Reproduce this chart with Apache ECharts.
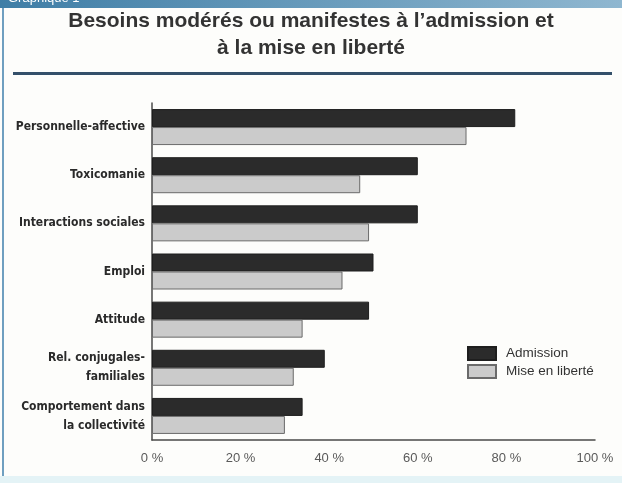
<!DOCTYPE html>
<html>
<head>
<meta charset="utf-8">
<script src="https://cdn.jsdelivr.net/npm/echarts@6/dist/echarts.min.js"></script>
<style>
  html, body { margin: 0; padding: 0; background: #fdfdfb; }
  #chart { width: 622px; height: 483px; }
</style>
</head>
<body>
<div id="chart"></div>
<script>
// Needs categories (top to bottom) and shares of offenders, in percent
const categories = [
  'Personnelle-affective',
  'Toxicomanie',
  'Interactions sociales',
  'Emploi',
  'Attitude',
  'Rel. conjugales-\nfamiliales',
  'Comportement dans\nla collectivité'
];
const admission = [82, 60, 60, 50, 49, 39, 34];
const miseEnLiberte = [71, 47, 49, 43, 34, 32, 30];
const xTicks = { min: 0, max: 100, step: 20 };

const titleFont = 'bold 21px "Liberation Sans", Arial, sans-serif';

const chart = echarts.init(document.getElementById('chart'), null, { renderer: 'canvas' });

chart.setOption({
  backgroundColor: '#fdfdfb',
  animation: false,
  graphic: [
    // header band with the exhibit label
    { type: 'rect', left: 0, top: 0, shape: { width: 622, height: 8 },
      style: { fill: new echarts.graphic.LinearGradient(0, 0, 1, 0, [
        { offset: 0, color: '#3f7ea6' }, { offset: 1, color: '#8fb7d0' }]) }, z: 10 },
    { type: 'text', left: 8, top: -8,
      style: { text: 'Graphique 1', fill: '#ffffff', font: '13px "Liberation Sans", Arial, sans-serif' }, z: 11 },
    // frame edges
    { type: 'rect', left: 2, top: 8, shape: { width: 2, height: 470 },
      style: { fill: '#6f9fc0' }, z: 10 },
    { type: 'rect', left: 0, top: 476, shape: { width: 622, height: 7 },
      style: { fill: '#e4f3f6' }, z: 10 },
    // title, two centred lines
    { type: 'text', left: 'center', top: 11,
      style: { text: 'Besoins modérés ou manifestes à l’admission et',
        fill: '#333333', font: titleFont }, z: 10 },
    { type: 'text', left: 'center', top: 38,
      style: { text: 'à la mise en liberté',
        fill: '#333333', font: titleFont }, z: 10 },
    // rule under the title
    { type: 'rect', left: 13, top: 72, shape: { width: 599, height: 3 },
      style: { fill: '#34506a' }, z: 10 }
  ],
  legend: {
    orient: 'vertical',
    left: 462,
    top: 341,
    itemWidth: 28,
    itemHeight: 13,
    itemGap: 3,
    icon: 'rect',
    textStyle: { color: '#333333', fontSize: 13.5, fontFamily: '"Liberation Sans", Arial, sans-serif', padding: [0, 0, 0, 5] },
    data: ['Admission', 'Mise en liberté']
  },
  grid: { left: 152, right: 27, top: 103, bottom: 43, containLabel: false },
  xAxis: {
    type: 'value',
    min: xTicks.min,
    max: xTicks.max,
    interval: xTicks.step,
    axisLine: { show: true, lineStyle: { color: '#4a4a4a', width: 1.5 } },
    axisTick: { show: false },
    splitLine: { show: false },
    axisLabel: {
      formatter: '{value} %',
      color: '#5a5a5a',
      fontSize: 13,
      margin: 12,
      fontFamily: '"Liberation Sans", Arial, sans-serif'
    }
  },
  yAxis: {
    type: 'category',
    inverse: true,
    data: categories,
    axisLine: { show: true, lineStyle: { color: '#4a4a4a', width: 1.5 } },
    axisTick: { show: false },
    axisLabel: {
      color: '#2a2a2a',
      fontSize: 12,
      fontWeight: 'bold',
      lineHeight: 19,
      margin: 7,
      align: 'right',
      fontFamily: '"Liberation Sans Narrow", "DejaVu Sans Condensed", Arial, sans-serif'
    }
  },
  series: [
    {
      name: 'Admission',
      type: 'bar',
      data: admission,
      barWidth: 18,
      barGap: '0%',
      itemStyle: { color: '#2b2b2b', borderColor: '#1e1e1e', borderWidth: 1 }
    },
    {
      name: 'Mise en liberté',
      type: 'bar',
      data: miseEnLiberte,
      barWidth: 18,
      barGap: '0%',
      itemStyle: { color: '#cbcbcb', borderColor: '#6a6a6a', borderWidth: 1 }
    }
  ]
});
</script>
</body>
</html>
